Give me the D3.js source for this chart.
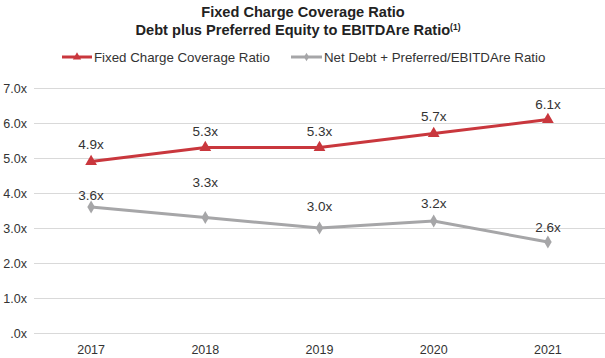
<!DOCTYPE html>
<html><head><meta charset="utf-8">
<script src="https://cdn.jsdelivr.net/npm/d3@7"></script>
<style>body{margin:0;background:#fff;}svg{display:block;font-family:"Liberation Sans",Arial,sans-serif;}</style>
</head><body>
<svg id="c" width="605" height="358"></svg>
<script>
const years = ["2017","2018","2019","2020","2021"];
const fixedCharge = [4.9, 5.3, 5.3, 5.7, 6.1];
const netDebt = [3.6, 3.3, 3.0, 3.2, 2.6];
const fixedLabels = ["4.9x","5.3x","5.3x","5.7x","6.1x"];
const netLabels = ["3.6x","3.3x","3.0x","3.2x","2.6x"];
const yTicks = [0,1,2,3,4,5,6,7];
const yTickLabels = [".0x","1.0x","2.0x","3.0x","4.0x","5.0x","6.0x","7.0x"];

const fixedLabelDy = [-17,-16,-16,-17,-15];
const netLabelDy = [-12,-35,-22,-18,-15];

const svg = d3.select("#c");
const red = "#C9373D", gray = "#A6A6A8";
const x = d3.scaleBand().domain(years).range([34,605]).padding(0);
const y = d3.scaleLinear().domain([0,7]).range([333,88]);
const cx = d => x(d) + x.bandwidth()/2;

// title
svg.append("text").attr("x",303).attr("y",17).attr("text-anchor","middle")
  .attr("font-size",14.6).attr("font-weight","bold").attr("fill","#222").text("Fixed Charge Coverage Ratio");
const t2 = svg.append("text").attr("x",298).attr("y",35).attr("text-anchor","middle")
  .attr("font-size",14.6).attr("font-weight","bold").attr("fill","#222");
t2.append("tspan").text("Debt plus Preferred Equity to EBITDAre Ratio");
t2.append("tspan").attr("font-size",8.5).attr("dy",-5.5).text("(1)");

// grid + y axis
const yAxis = d3.axisLeft(y).tickValues(yTicks).tickFormat((d,i)=>yTickLabels[i]).tickSize(-(605-34)).tickPadding(8);
const ga = svg.append("g").attr("transform","translate(34,0)").call(yAxis);
ga.select(".domain").remove();
ga.selectAll(".tick line").attr("stroke","#d9d9d9").attr("stroke-width",1);
ga.selectAll(".tick text").attr("font-size",12.5).attr("fill","#333").attr("x",-7);

// x axis
const xAxis = d3.axisBottom(x).tickSize(0).tickPadding(10);
const gx = svg.append("g").attr("transform","translate(0,333)").call(xAxis);
gx.select(".domain").remove();
gx.selectAll(".tick text").attr("font-size",12.5).attr("fill","#333").attr("dy","0.9em");

const line = d3.line().x((d,i)=>cx(years[i])).y(d=>y(d));
const tri = d3.symbol().type(d3.symbolTriangle).size(60);
const dia = d3.symbol().type(d3.symbolDiamond).size(50);

function series(vals, labels, dys, color, sym){
  svg.append("path").datum(vals).attr("d",line).attr("fill","none").attr("stroke",color).attr("stroke-width",3);
  svg.selectAll(null).data(vals).enter().append("path").attr("d",sym)
    .attr("transform",(d,i)=>`translate(${cx(years[i])},${y(d)})`).attr("fill",color);
  svg.selectAll(null).data(vals).enter().append("text")
    .attr("x",(d,i)=>cx(years[i])).attr("y",(d,i)=>y(d)+dys[i]).attr("dy","0.35em")
    .attr("text-anchor","middle").attr("font-size",13.5).attr("fill","#333").text((d,i)=>labels[i]);
}
series(netDebt, netLabels, netLabelDy, gray, dia);
series(fixedCharge, fixedLabels, fixedLabelDy, red, tri);

// legend
const triS = d3.symbol().type(d3.symbolTriangle).size(30);
const diaS = d3.symbol().type(d3.symbolDiamond).size(22);
function legend(x0, w, color, sym, label){
  svg.append("line").attr("x1",x0).attr("x2",x0+w).attr("y1",57).attr("y2",57).attr("stroke",color).attr("stroke-width",3);
  svg.append("path").attr("d",sym).attr("transform",`translate(${x0+w/2},57)`).attr("fill",color);
  svg.append("text").attr("x",x0+w+2).attr("y",57).attr("dy","0.35em").attr("font-size",13.3).attr("fill","#333").text(label);
}
legend(62, 30, red, triS, "Fixed Charge Coverage Ratio");
legend(291, 31, gray, diaS, "Net Debt + Preferred/EBITDAre Ratio");
</script>
</body></html>
